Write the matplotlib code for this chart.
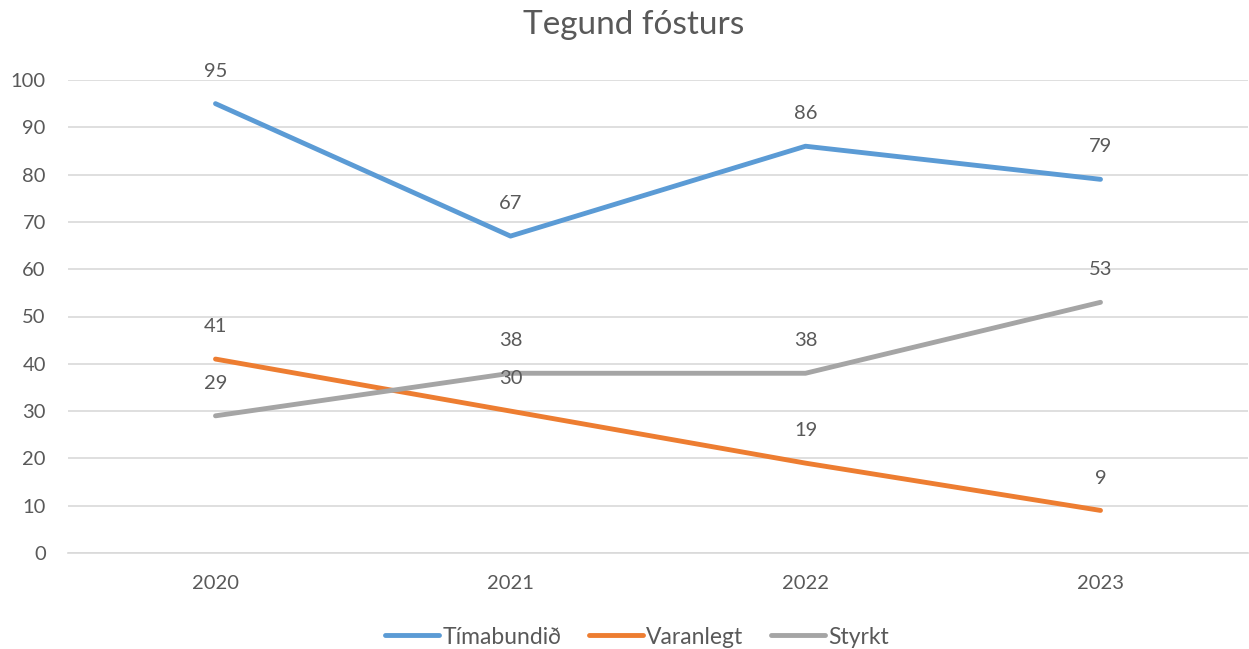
import matplotlib
matplotlib.use("Agg")
import matplotlib.pyplot as plt

years = ["2020", "2021", "2022", "2023"]
series_names = ["Tímabundið", "Varanlegt", "Styrkt"]
timabundid = [95, 67, 86, 79]
varanlegt = [41, 30, 19, 9]
styrkt = [29, 38, 38, 53]
y_ticks = [0, 10, 20, 30, 40, 50, 60, 70, 80, 90, 100]

colors = ["#5B9BD5", "#ED7D31", "#A5A5A5"]
text_color = "#595959"
plt.rcParams["font.family"] = ["Lato", "DejaVu Sans"]

fig = plt.figure(figsize=(12.49, 6.49), dpi=100)
ax = fig.add_axes([68 / 1249, 1 - 553 / 649, 1180 / 1249, 473 / 649])

x = list(range(len(years)))
for name, vals, c in zip(series_names, [timabundid, varanlegt, styrkt], colors):
    ax.plot(x, vals, color=c, lw=3.5, solid_capstyle="round", label=name, zorder=3)
    for xi, v in zip(x, vals):
        ax.annotate(str(v), (xi, v), xytext=(0, 23.3), textcoords="offset points",
                    ha="center", va="center", fontsize=14.5, color=text_color, zorder=4)

ax.set_xlim(-0.5, 3.5)
ax.set_ylim(0, 100)
ax.set_yticks(y_ticks)
ax.set_xticks(x)
ax.set_xticklabels(years)
ax.grid(axis="y", color="#D9D9D9", lw=1.2)
ax.set_axisbelow(True)
for s in ["top", "right", "left"]:
    ax.spines[s].set_visible(False)
ax.spines["bottom"].set_color("#D9D9D9")
ax.spines["bottom"].set_linewidth(1.2)
ax.tick_params(axis="both", length=0, labelsize=14.5, colors=text_color)
ax.tick_params(axis="x", pad=16)
ax.tick_params(axis="y", pad=16)

fig.text(634 / 1249, 1 - 25 / 649, "Tegund fósturs", ha="center", va="center",
         fontsize=24, color=text_color)

leg = fig.legend(loc="center", bbox_to_anchor=(637 / 1249, 1 - 637 / 649), ncol=3,
                 frameon=False, fontsize=16.5, handlelength=2.35, handletextpad=0.15,
                 columnspacing=1.2, labelcolor=text_color)
for h in leg.get_lines():
    h.set_linewidth(3.5)
    h.set_solid_capstyle("round")

fig.savefig("out.png", dpi=100)
